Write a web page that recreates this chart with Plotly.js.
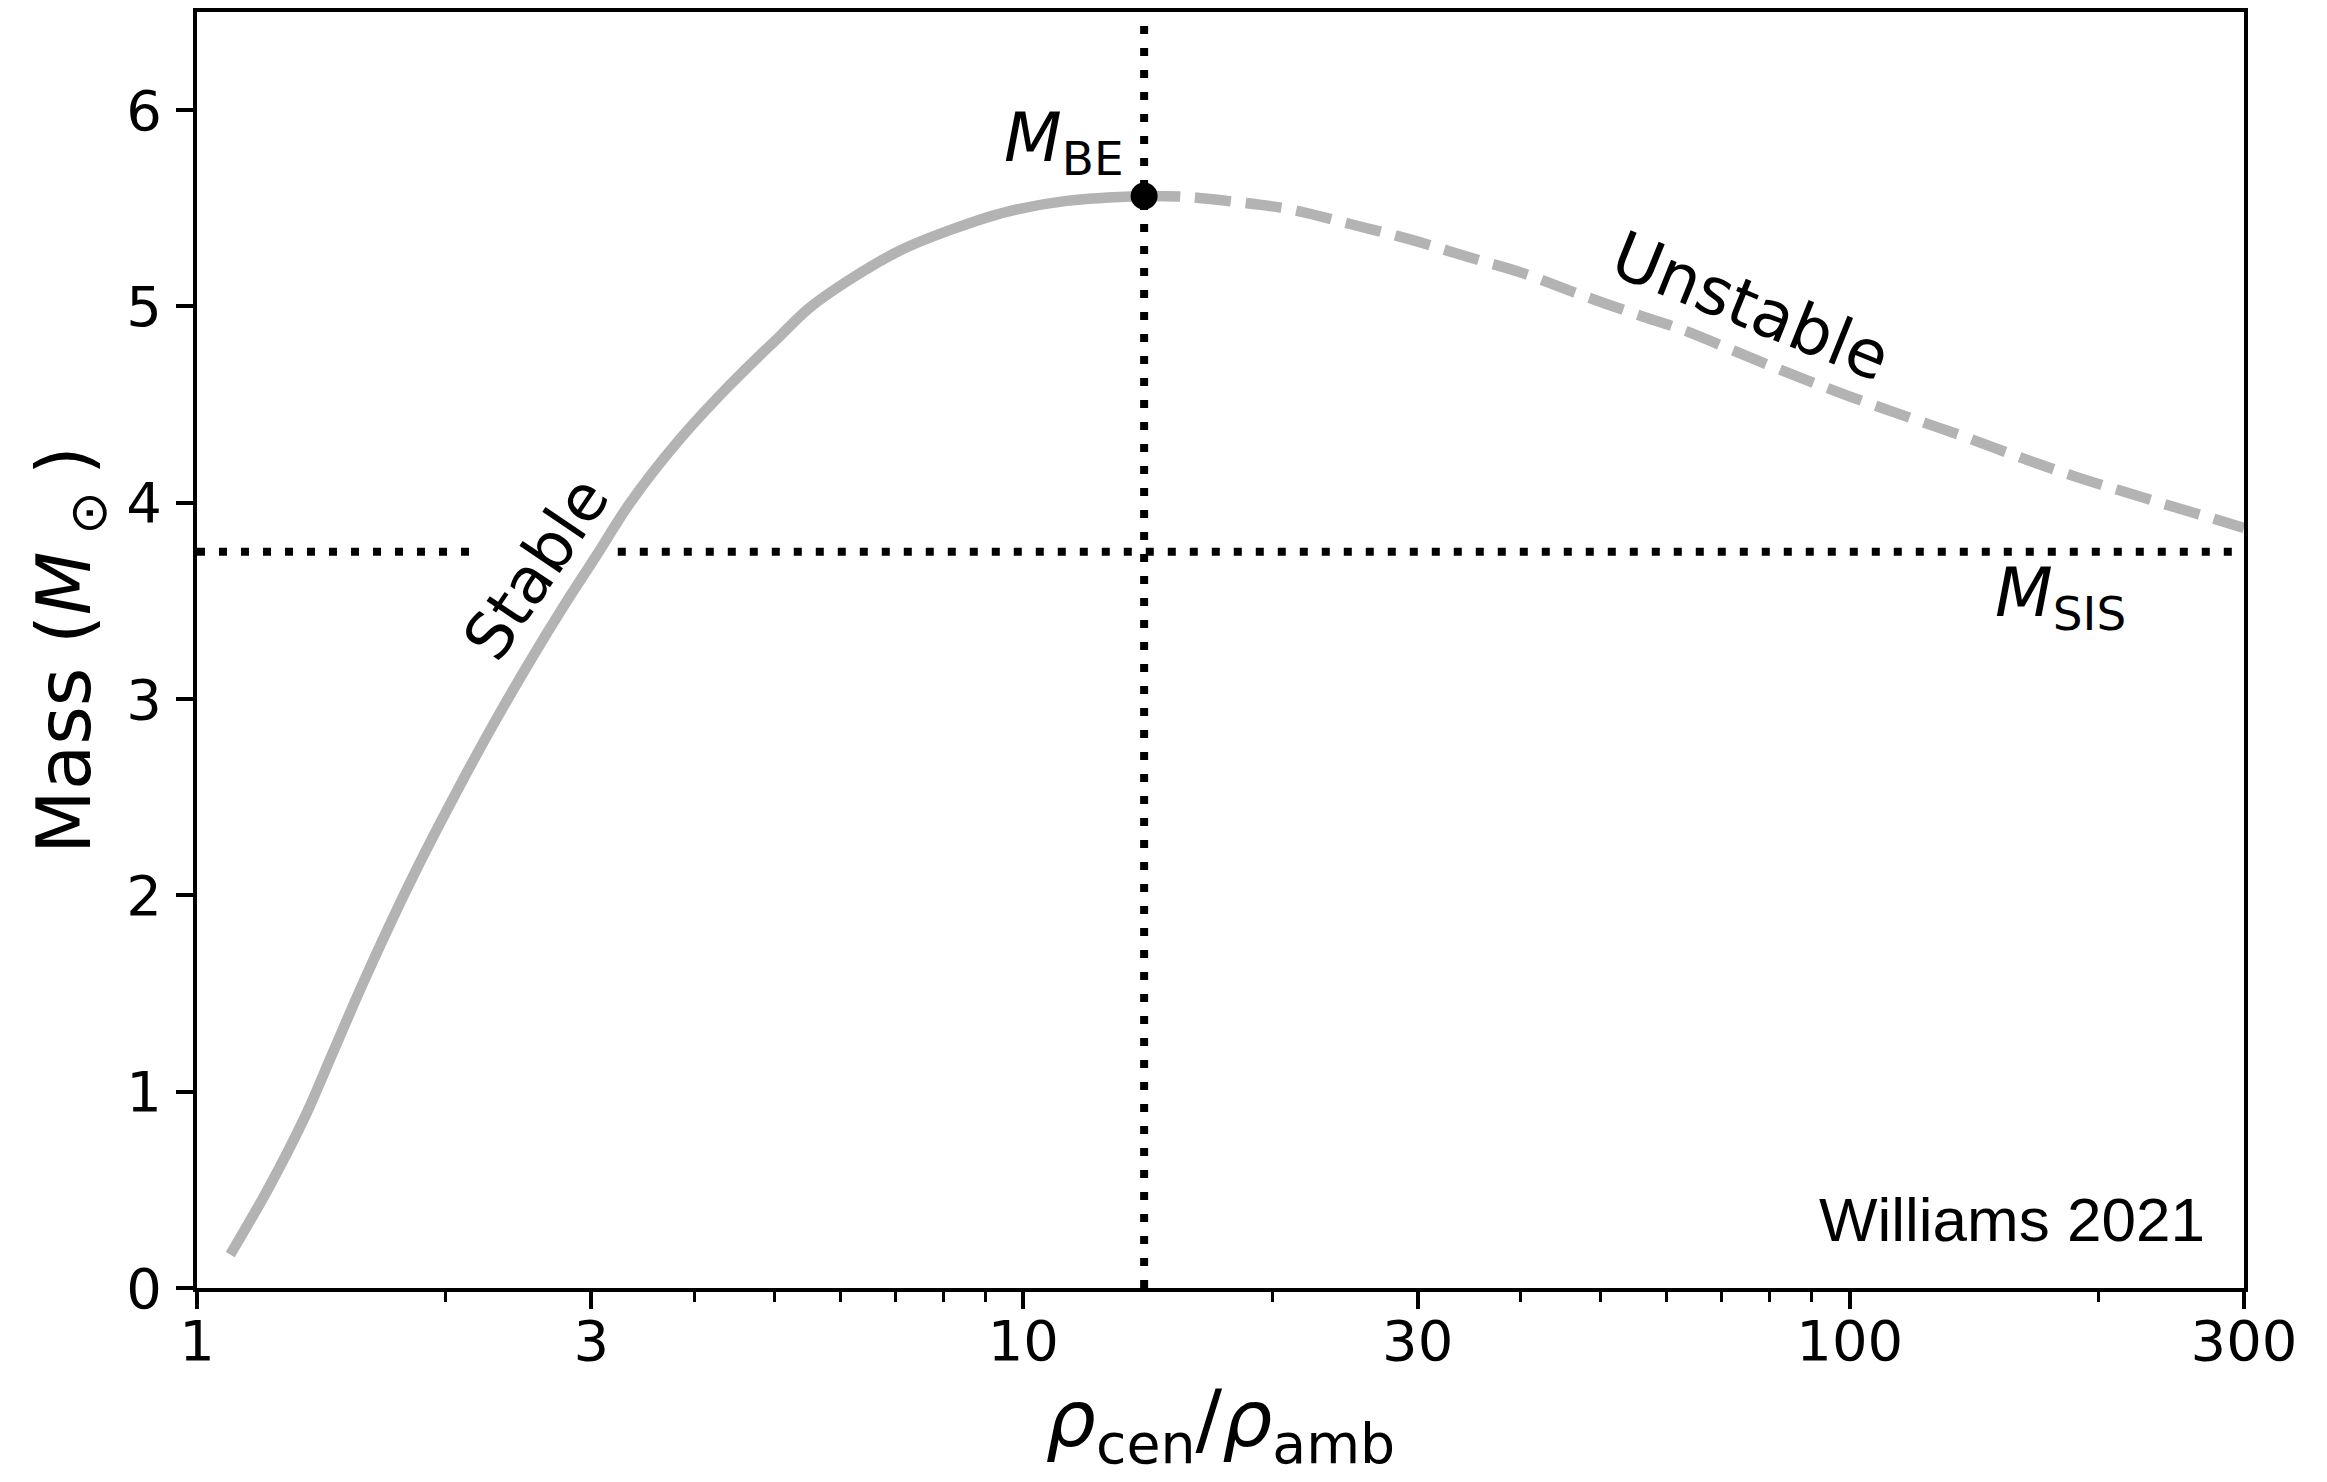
<!DOCTYPE html>
<html>
<head>
<meta charset="utf-8">
<script src="https://cdn.plot.ly/plotly-3.0.1.min.js"></script>
<style>html,body{margin:0;padding:0;background:#fff;}#chart{width:2327px;height:1482px;}</style>
</head>
<body>
<div id="chart"></div>
<script>
// Stable branch (solid) of the Bonnor-Ebert mass curve
const stableRho  = [1.097, 1.221, 1.346, 1.457, 1.576, 1.714, 1.881, 2.083, 2.294, 2.529, 2.775, 3.040, 3.342, 3.806, 4.379, 5.077, 5.519, 6.225, 7.091, 8.226, 9.546, 11.28, 14.0];
const stableMass = [0.170, 0.510, 0.858, 1.190, 1.521, 1.857, 2.206, 2.564, 2.886, 3.193, 3.470, 3.728, 3.999, 4.305, 4.585, 4.850, 4.995, 5.148, 5.285, 5.395, 5.482, 5.538, 5.563];
// Unstable branch (dashed)
const unstableRho  = [14.0, 15.61, 17.95, 21.02, 24.85, 29.37, 34.4, 40.27, 46.72, 56.26, 62.9, 73.6, 85.44, 100.1, 117.2, 135.9, 159.2, 186.4, 216.3, 300];
const unstableMass = [5.563, 5.559, 5.534, 5.495, 5.420, 5.342, 5.254, 5.169, 5.067, 4.948, 4.880, 4.762, 4.651, 4.541, 4.439, 4.345, 4.238, 4.137, 4.052, 3.872];
// Reference values
const rhoBE = 14.0;
const mBE = 5.563;
const mSIS = 3.75;
const sisGap = [2.16, 3.23];   // break in the M_SIS line around the "Stable" label
const xRange = [1, 300];
const yRange = [0, 6.5];
const xTickVals = [1, 3, 10, 30, 100, 300];
const xTickText = ['1', '3', '10', '30', '100', '300'];
const xMinorVals = [2, 4, 5, 6, 7, 8, 9, 20, 40, 50, 60, 70, 80, 90, 200];
const yTickVals = [0, 1, 2, 3, 4, 5, 6];

const gray = '#b3b3b3';
const dotted = '8px,14px';

const traces = [
  {x: [xRange[0], sisGap[0], null, sisGap[1], xRange[1]], y: [mSIS, mSIS, null, mSIS, mSIS],
   mode: 'lines', line: {color: 'black', width: 8, dash: dotted}, connectgaps: false, hoverinfo: 'skip'},
  {x: [rhoBE, rhoBE], y: [yRange[0], yRange[1]],
   mode: 'lines', line: {color: 'black', width: 8, dash: dotted}, hoverinfo: 'skip'},
  {x: stableRho, y: stableMass, mode: 'lines', line: {color: gray, width: 10.5, shape: 'spline', smoothing: 1}},
  {x: unstableRho, y: unstableMass, mode: 'lines', line: {color: gray, width: 10.5, dash: '36px,15px', shape: 'spline', smoothing: 1}},
  {x: [rhoBE], y: [mBE], mode: 'markers', marker: {color: 'black', size: 27}}
];

const F = 'DejaVu Sans';
const layout = {
  width: 2327, height: 1482,
  margin: {l: 197, r: 83, t: 12, b: 194},
  paper_bgcolor: 'white', plot_bgcolor: 'white',
  showlegend: false,
  font: {family: F, color: 'black', size: 56},
  xaxis: {
    type: 'log', range: [Math.log10(xRange[0]), Math.log10(xRange[1])],
    tickmode: 'array', tickvals: xTickVals, ticktext: xTickText,
    ticks: 'outside', ticklen: 17, tickwidth: 4, tickcolor: 'black',
    minor: {tickmode: 'array', tickvals: xMinorVals, ticks: 'outside', ticklen: 10, tickwidth: 3, tickcolor: 'black', showgrid: false},
    showline: true, mirror: true, linecolor: 'black', linewidth: 4,
    showgrid: false, zeroline: false,
    tickfont: {family: F, size: 56, color: 'black'},
    ticklabelstandoff: -16,
    title: {text: '<i>ρ</i><sub>cen</sub>/<i>ρ</i><sub>amb</sub>', font: {family: F, size: 79, color: 'black'}, standoff: 18},
    automargin: false
  },
  yaxis: {
    range: yRange, tickmode: 'array', tickvals: yTickVals,
    ticks: 'outside', ticklen: 17, tickwidth: 4, tickcolor: 'black',
    showline: true, mirror: true, linecolor: 'black', linewidth: 4,
    showgrid: false, zeroline: false,
    tickfont: {family: F, size: 56, color: 'black'},
    ticklabelstandoff: 3,
    title: {text: 'Mass (<i>M</i><sub>\u00A0⊙\u00A0</sub>)', font: {family: F, size: 74, color: 'black'}, standoff: 12},
    automargin: false
  },
  annotations: [
    {x: Math.log10(2.577), y: 3.666, xref: 'x', yref: 'y', text: 'Stable', showarrow: false, textangle: -56,
     font: {family: F, size: 64, color: 'black'}},
    {x: Math.log10(75.9), y: 4.998, xref: 'x', yref: 'y', text: 'Unstable', showarrow: false, textangle: 22,
     font: {family: F, size: 66, color: 'black'}},
    {x: Math.log10(11.2), y: 5.833, xref: 'x', yref: 'y', text: '<i>M</i><sub>BE</sub>', showarrow: false,
     font: {family: F, size: 67, color: 'black'}},
    {x: Math.log10(179.7), y: 3.52, xref: 'x', yref: 'y', text: '<i>M</i><sub>SIS</sub>', showarrow: false,
     font: {family: F, size: 67, color: 'black'}},
    {x: Math.log10(270.6), y: 0.349, xref: 'x', yref: 'y', xanchor: 'right', yanchor: 'middle', text: 'Williams 2021', showarrow: false,
     font: {family: 'Liberation Sans', size: 62, color: 'black'}}
  ]
};

Plotly.newPlot('chart', traces, layout, {displayModeBar: false, staticPlot: true});
</script>
</body>
</html>
